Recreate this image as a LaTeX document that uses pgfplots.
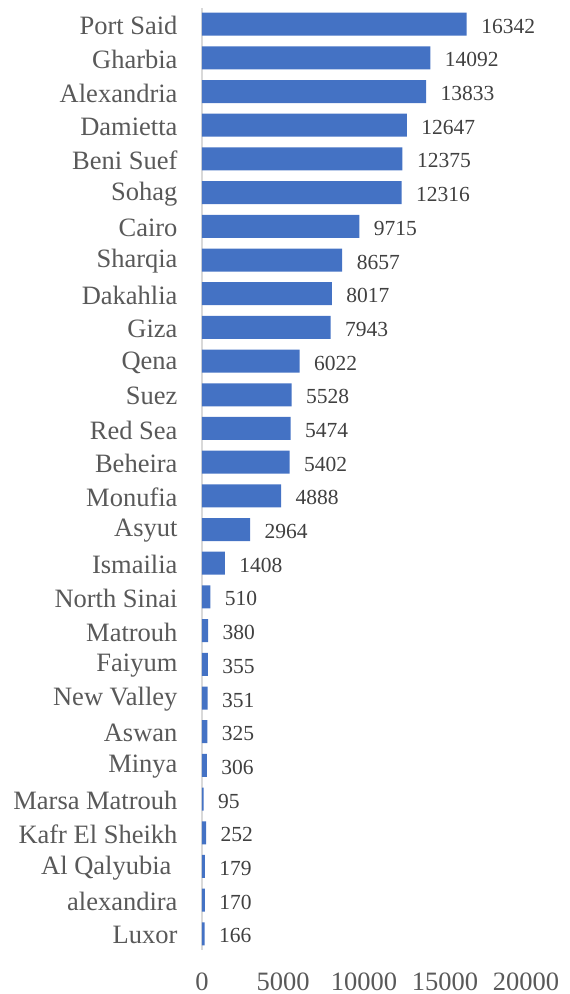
\documentclass[border=0pt]{standalone}
\usepackage{pgfplots}
\pgfplotsset{compat=1.18}
\usepackage{fontspec}
\setmainfont{Liberation Serif}
\definecolor{barblue}{HTML}{4472C4}
\definecolor{lblgray}{HTML}{595959}
\definecolor{valgray}{HTML}{404040}
\definecolor{axgray}{HTML}{D9D9D9}
\begin{document}
\begin{tikzpicture}[x=1pt,y=1pt]
\path[use as bounding box] (0,0) rectangle (570,994);
\begin{axis}[
  at={(202pt,44pt)}, anchor=south west,
  scale only axis, width=324pt, height=942pt,
  xbar, bar width=23pt,
  xmin=0, xmax=20000,
  ymin=-0.48, ymax=27.48, y dir=reverse,
  xtick={0,5000,10000,15000,20000},
  scaled x ticks=false,
  ytick={0,...,27},
  yticklabels={Port Said,Gharbia,Alexandria,Damietta,Beni Suef,Sohag,Cairo,Sharqia,Dakahlia,Giza,Qena,Suez,Red Sea,Beheira,Monufia,Asyut,Ismailia,North Sinai,Matrouh,Faiyum,New Valley,Aswan,Minya,Marsa Matrouh,Kafr El Sheikh,{Al Qalyubia\rule{6pt}{0pt}},alexandira,Luxor},
  axis lines*=left,
  x axis line style={draw=none},
  y axis line style={draw=axgray, line width=1.2pt, -},
  major tick length=0pt,
  tick style={draw=none},
  /pgf/number format/assume math mode=true,
  /pgf/number format/1000 sep={},
  xticklabel style={font=\fontsize{26.5}{30}\selectfont, text=lblgray, yshift=-19pt,
    /pgf/number format/.cd, fixed, precision=0, 1000 sep={}, assume math mode=true},
  yticklabel style={font=\fontsize{26.5}{30}\selectfont, text=lblgray, anchor=east, xshift=-21pt, yshift=-1.5pt},
  nodes near coords,
  point meta=x,
  nodes near coords style={font=\fontsize{21.5}{24}\selectfont, text=valgray, anchor=west, xshift=11pt, yshift=-2pt,
    /pgf/number format/.cd, fixed, precision=0, 1000 sep={}, assume math mode=true},
  clip=false,
]
\addplot[fill=barblue, draw=none] coordinates {
(16342,0) (14092,1) (13833,2) (12647,3) (12375,4) (12316,5) (9715,6) (8657,7) (8017,8) (7943,9)
(6022,10) (5528,11) (5474,12) (5402,13) (4888,14) (2964,15) (1408,16) (510,17) (380,18) (355,19)
(351,20) (325,21) (306,22) (95,23) (252,24) (179,25) (170,26) (166,27)
};
\end{axis}
\end{tikzpicture}
\end{document}
